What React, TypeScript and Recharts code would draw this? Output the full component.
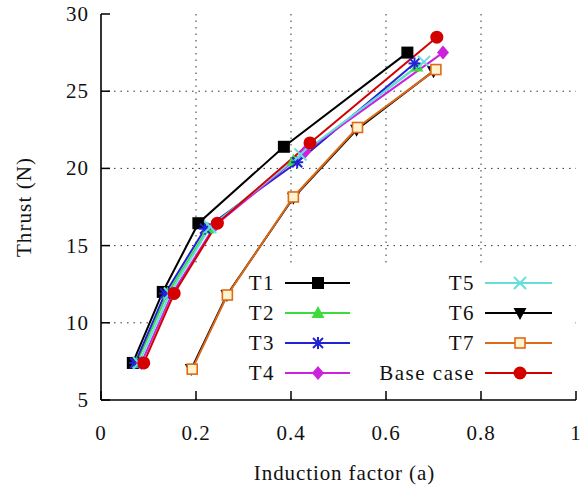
import React from 'react'
import {
  LineChart, Line, XAxis, YAxis, CartesianGrid, Legend, ReferenceArea,
} from 'recharts'

// induction factor (a) vs thrust (N)
const t1X = [0.067, 0.13, 0.205, 0.385, 0.645]
const t1Y = [7.4, 12.0, 16.45, 21.4, 27.5]
const t2X = [0.075, 0.14, 0.225, 0.405, 0.665]
const t2Y = [7.4, 11.9, 16.1, 20.5, 26.6]
const t3X = [0.072, 0.135, 0.219, 0.413, 0.66]
const t3Y = [7.4, 11.9, 16.1, 20.4, 26.8]
const t4X = [0.085, 0.15, 0.24, 0.43, 0.72]
const t4Y = [7.4, 11.9, 16.3, 21.1, 27.5]
const t5X = [0.08, 0.145, 0.23, 0.42, 0.68]
const t5Y = [7.4, 11.9, 16.2, 20.9, 26.9]
const t6X = [0.19, 0.265, 0.405, 0.538, 0.70]
const t6Y = [7.0, 11.8, 18.1, 22.5, 26.3]
const t7X = [0.192, 0.266, 0.405, 0.54, 0.705]
const t7Y = [7.0, 11.8, 18.15, 22.65, 26.4]
const baseX = [0.09, 0.154, 0.245, 0.44, 0.707]
const baseY = [7.4, 11.9, 16.45, 21.65, 28.5]

const xTicks = [0, 0.2, 0.4, 0.6, 0.8, 1]
const yTicks = [5, 10, 15, 20, 25, 30]

const FONT = 'Liberation Serif'

type Shape = 'square' | 'triangle' | 'star' | 'diamond' | 'cross' | 'triangleDown' | 'openSquare' | 'circle'

const zip = (xs: number[], ys: number[]) => xs.map((x, i) => ({ x, y: ys[i] }))

const series: { name: string; data: { x: number; y: number }[]; color: string; shape: Shape }[] = [
  { name: 'T1', data: zip(t1X, t1Y), color: '#000000', shape: 'square' },
  { name: 'T2', data: zip(t2X, t2Y), color: '#3ddc3d', shape: 'triangle' },
  { name: 'T3', data: zip(t3X, t3Y), color: '#2222d8', shape: 'star' },
  { name: 'T4', data: zip(t4X, t4Y), color: '#cc22dd', shape: 'diamond' },
  { name: 'T5', data: zip(t5X, t5Y), color: '#66dede', shape: 'cross' },
  { name: 'T6', data: zip(t6X, t6Y), color: '#000000', shape: 'triangleDown' },
  { name: 'T7', data: zip(t7X, t7Y), color: '#dc6a18', shape: 'openSquare' },
  { name: 'Base case', data: zip(baseX, baseY), color: '#d40000', shape: 'circle' },
]

function Label({ x, y, anchor, spacing = 1, children, transform }: any) {
  return (
    <text
      x={x}
      y={y}
      textAnchor={anchor}
      fontFamily={FONT}
      fontSize={21}
      letterSpacing={spacing}
      fill="#111"
      transform={transform}
    >
      {children}
    </text>
  )
}

function Marker({ cx, cy, shape, color }: { cx: number; cy: number; shape: Shape; color: string }) {
  const s = 6
  switch (shape) {
    case 'square':
      return <rect x={cx - s} y={cy - s} width={2 * s} height={2 * s} fill={color} />
    case 'openSquare':
      return <rect x={cx - 5} y={cy - 5} width={10} height={10} fill="#fff3d0" stroke={color} strokeWidth={1.6} />
    case 'triangle':
      return <polygon points={`${cx},${cy - 7} ${cx - 6.5},${cy + 5} ${cx + 6.5},${cy + 5}`} fill={color} />
    case 'triangleDown':
      return <polygon points={`${cx},${cy + 7} ${cx - 6.5},${cy - 5} ${cx + 6.5},${cy - 5}`} fill={color} />
    case 'diamond':
      return <polygon points={`${cx},${cy - 7} ${cx + 6},${cy} ${cx},${cy + 7} ${cx - 6},${cy}`} fill={color} />
    case 'circle':
      return <circle cx={cx} cy={cy} r={6.5} fill={color} />
    case 'star':
      return (
        <g stroke={color} strokeWidth={2}>
          <line x1={cx - 6} y1={cy} x2={cx + 6} y2={cy} />
          <line x1={cx} y1={cy - 6} x2={cx} y2={cy + 6} />
          <line x1={cx - 5} y1={cy - 5} x2={cx + 5} y2={cy + 5} />
          <line x1={cx - 5} y1={cy + 5} x2={cx + 5} y2={cy - 5} />
        </g>
      )
    case 'cross':
      return (
        <g stroke={color} strokeWidth={2}>
          <line x1={cx - 6} y1={cy - 6} x2={cx + 6} y2={cy + 6} />
          <line x1={cx - 6} y1={cy + 6} x2={cx + 6} y2={cy - 6} />
        </g>
      )
  }
  return null
}

function BottomTick({ x, y, payload }: any) {
  return (
    <g>
      <line x1={x} y1={y} x2={x} y2={y - 9} stroke="#000" strokeWidth={1.5} />
      <Label x={x} y={y + 40} anchor="middle">{String(payload.value)}</Label>
    </g>
  )
}

function TopTick({ x, y }: any) {
  return <line x1={x} y1={y} x2={x} y2={y + 9} stroke="#000" strokeWidth={1.5} />
}

function LeftTick({ x, y, payload }: any) {
  return (
    <g>
      <line x1={x} y1={y} x2={x + 9} y2={y} stroke="#000" strokeWidth={1.5} />
      <Label x={x - 12} y={y + 7} anchor="end">{String(payload.value)}</Label>
    </g>
  )
}

function RightTick({ x, y }: any) {
  return <line x1={x} y1={y} x2={x - 9} y2={y} stroke="#000" strokeWidth={1.5} />
}

function KeyBox() {
  // two-column key, drawn like gnuplot's
  const rows = [283, 313, 343, 373]
  const cols = [
    { textRight: 275, x1: 285, x2: 350, mark: 318 },
    { textRight: 475, x1: 485, x2: 552, mark: 520 },
  ]
  return (
    <svg width={587} height={490} style={{ position: 'absolute', left: 0, top: 0, pointerEvents: 'none' }}>
      {series.map((s, i) => {
        const c = cols[Math.floor(i / 4)]
        const y = rows[i % 4]
        return (
          <g key={s.name}>
            <Label x={c.textRight} y={y + 7} anchor="end" spacing={1.5}>{s.name}</Label>
            <line x1={c.x1} y1={y} x2={c.x2} y2={y} stroke={s.color} strokeWidth={2} />
            <Marker cx={c.mark} cy={y} shape={s.shape} color={s.color} />
          </g>
        )
      })}
    </svg>
  )
}

export default function App() {
  return (
    <div style={{ position: 'absolute', left: 0, top: 0, width: 587, height: 490, background: '#fff' }}>
      <LineChart width={587} height={490} margin={{ top: 14, right: 11, bottom: 0, left: 0 }}>
        <CartesianGrid
          xAxisId="b"
          yAxisId="l"
          stroke="#333"
          strokeDasharray="1.5 5"
          verticalValues={[0.2, 0.4, 0.6, 0.8]}
          horizontalValues={[10, 15, 20, 25]}
        />
        <ReferenceArea
          xAxisId="b"
          yAxisId="l"
          x1={0.105}
          x2={0.997}
          y1={5.1}
          y2={13.75}
          fill="#fff"
          fillOpacity={1}
          stroke="none"
        />
        <XAxis
          xAxisId="b"
          type="number"
          dataKey="x"
          domain={[0, 1]}
          ticks={xTicks}
          interval={0}
          height={90}
          tickSize={0}
          tickMargin={0}
          tickLine={false}
          tick={<BottomTick />}
          axisLine={{ stroke: '#000', strokeWidth: 1.6 }}
          label={(p: any) => (
            <Label x={p.viewBox.x + p.viewBox.width / 2 + 6} y={p.viewBox.y + 80} anchor="middle" spacing={0.9}>
              Induction factor (a)
            </Label>
          )}
        />
        <XAxis
          xAxisId="t"
          orientation="top"
          type="number"
          dataKey="x"
          domain={[0, 1]}
          ticks={xTicks}
          interval={0}
          height={0}
          tickSize={0}
          tickMargin={0}
          tickLine={false}
          tick={<TopTick />}
          axisLine={{ stroke: '#000', strokeWidth: 1.6 }}
        />
        <YAxis
          yAxisId="l"
          type="number"
          domain={[5, 30]}
          ticks={yTicks}
          interval={0}
          width={101}
          tickSize={0}
          tickMargin={0}
          tickLine={false}
          tick={<LeftTick />}
          axisLine={{ stroke: '#000', strokeWidth: 1.6 }}
          label={(p: any) => {
            const cy = p.viewBox.y + p.viewBox.height / 2
            return (
              <Label x={31} y={cy} anchor="middle" spacing={1.1} transform={`rotate(-90, 31, ${cy})`}>
                Thrust (N)
              </Label>
            )
          }}
        />
        <YAxis
          yAxisId="r"
          orientation="right"
          type="number"
          domain={[5, 30]}
          ticks={yTicks}
          interval={0}
          width={0}
          tickSize={0}
          tickMargin={0}
          tickLine={false}
          tick={<RightTick />}
          axisLine={{ stroke: '#000', strokeWidth: 1.6 }}
        />
        {series.map((s) => (
          <Line
            key={s.name}
            xAxisId="b"
            yAxisId="l"
            data={s.data}
            dataKey="y"
            name={s.name}
            stroke={s.color}
            strokeWidth={2}
            isAnimationActive={false}
            dot={(p: any) => <Marker key={`${s.name}-${p.index}`} cx={p.cx} cy={p.cy} shape={s.shape} color={s.color} />}
            activeDot={false}
          />
        ))}
        <Legend
          layout="vertical"
          align="center"
          verticalAlign="middle"
          wrapperStyle={{ position: 'absolute', left: 0, top: 0, width: 587, height: 490 }}
          content={() => <KeyBox />}
        />
      </LineChart>
    </div>
  )
}
